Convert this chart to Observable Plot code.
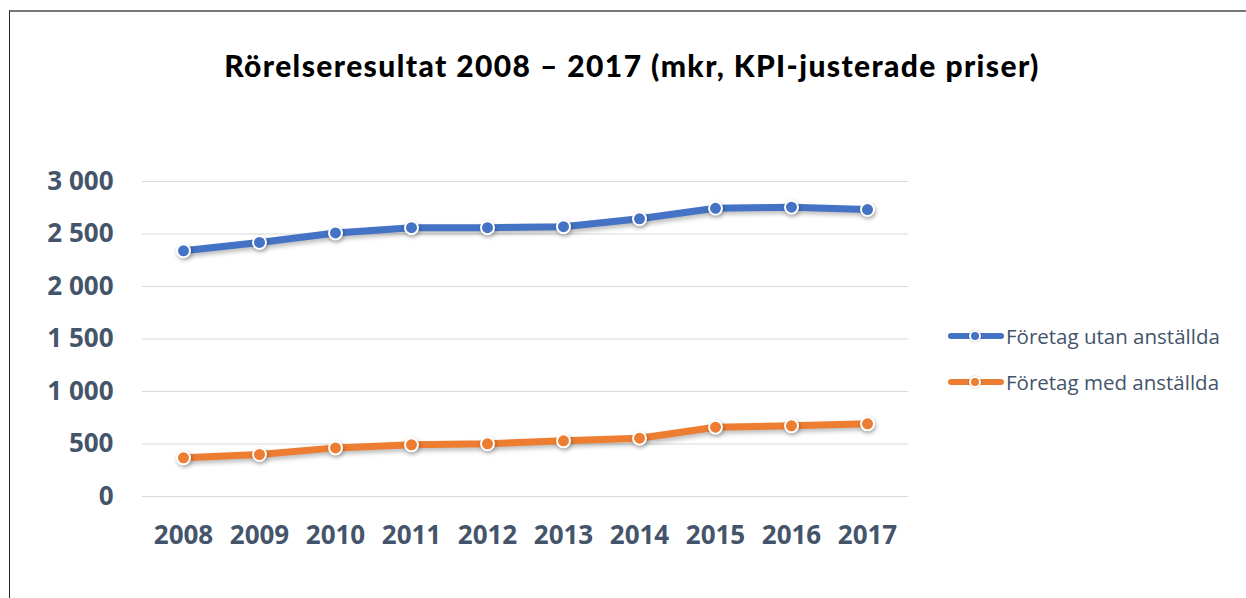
<!DOCTYPE html>
<html>
<head>
<meta charset="utf-8">
<script src="https://cdn.jsdelivr.net/npm/d3@7"></script>
<script src="https://cdn.jsdelivr.net/npm/@observablehq/plot@0.6"></script>
<style>
  html, body { margin: 0; padding: 0; background: #fff; }
  #wrap { position: relative; width: 1246px; height: 598px; overflow: hidden; background: #fff; }
  #frame { position: absolute; left: 9px; top: 10px; width: 1400px; height: 800px; border-left: 1.5px solid #222; border-top: 2px solid #777; }
  #title { position: absolute; left: 0; width: 1264px; top: 47px; text-align: center; font-family: Lato, sans-serif; font-weight: 900; font-size: 30px; letter-spacing: 1.4px; color: #000; white-space: nowrap; }
  #chart { position: absolute; left: 0; top: 0; }
  #legend { position: absolute; left: 948px; top: 322px; font-family: "Open Sans", sans-serif; font-size: 20.5px; color: #44546a; }
  .lg { display: flex; align-items: center; height: 28px; margin-bottom: 18px; white-space: nowrap; }
  .sw { position: relative; width: 56px; height: 14px; margin-right: 2px; }
  .sw .ln { position: absolute; left: 0; top: 4px; width: 56px; height: 6px; border-radius: 3px; }
  .sw .pt { position: absolute; left: 21px; top: 1px; width: 8px; height: 8px; border-radius: 50%; border: 2px solid #fff; box-shadow: 0 0 2px rgba(0,0,0,0.3); }
  svg g[aria-label="line"] { filter: drop-shadow(2px 3px 2px rgba(0,0,0,0.25)); }
  svg g[aria-label="dot"] { filter: drop-shadow(1px 2px 2px rgba(0,0,0,0.3)); }
</style>
</head>
<body>
<div id="wrap">
  <div id="frame"></div>
  <div id="chart"></div>
  <div id="title">Rörelseresultat 2008 – 2017 (mkr, KPI-justerade priser)</div>
  <div id="legend"></div>
</div>
<script>
const years = ["2008","2009","2010","2011","2012","2013","2014","2015","2016","2017"];
const utanAnstallda = [2340, 2420, 2510, 2560, 2560, 2570, 2645, 2745, 2755, 2733];
const medAnstallda = [368, 400, 463, 492, 502, 530, 555, 660, 673, 692];
const seriesNames = ["Företag utan anställda", "Företag med anställda"];
const seriesColors = ["#4472c4", "#ed7d31"];
const yTicks = [0, 500, 1000, 1500, 2000, 2500, 3000];

const rows = [];
years.forEach((y, i) => {
  rows.push({year: y, value: utanAnstallda[i], series: seriesNames[0]});
  rows.push({year: y, value: medAnstallda[i], series: seriesNames[1]});
});

const fmt = d => d3.format(",")(d).replace(/,/g, " ");

const chart = Plot.plot({
  width: 1246,
  height: 598,
  marginLeft: 142,
  marginRight: 338,
  marginTop: 181,
  marginBottom: 102,
  style: { fontFamily: "'Open Sans', sans-serif", background: "transparent", overflow: "visible" },
  x: { type: "point", domain: years, padding: 0.5, label: null },
  y: { domain: [0, 3000], label: null },
  color: { domain: seriesNames, range: seriesColors },
  marks: [
    Plot.gridY(yTicks, { stroke: "#d9d9d9", strokeOpacity: 1, strokeWidth: 1.2 }),
    Plot.axisY(yTicks, { tickSize: 0, tickPadding: 29, tickFormat: fmt, fontSize: 26, fontWeight: 700, fill: "#44546a", label: null }),
    Plot.axisX({ tickSize: 0, tickPadding: 29, fontSize: 26, fontWeight: 700, fill: "#44546a", label: null }),
    Plot.line(rows, { x: "year", y: "value", z: "series", stroke: "series", strokeWidth: 7, strokeLinecap: "round", strokeLinejoin: "round" }),
    Plot.dot(rows, { x: "year", y: "value", fill: "series", r: 6.5, stroke: "#fff", strokeWidth: 2 })
  ]
});
document.getElementById("chart").appendChild(chart);

const legend = document.getElementById("legend");
seriesNames.forEach((n, i) => {
  const row = document.createElement("div");
  row.className = "lg";
  row.innerHTML = `<div class="sw"><div class="ln" style="background:${seriesColors[i]}"></div><div class="pt" style="background:${seriesColors[i]}"></div></div><span>${n}</span>`;
  legend.appendChild(row);
});
</script>
</body>
</html>
